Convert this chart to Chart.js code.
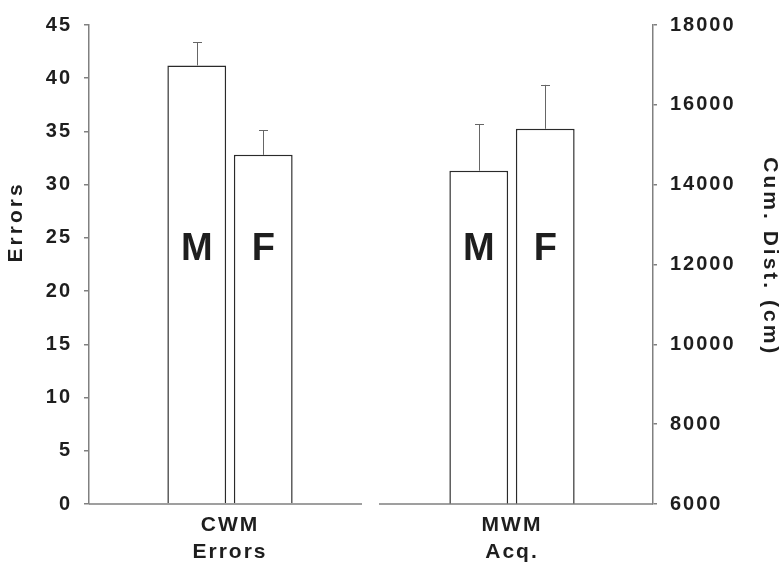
<!DOCTYPE html>
<html>
<head>
<meta charset="utf-8">
<script src="https://cdn.jsdelivr.net/npm/chart.js@4"></script>
<style>
  html, body { margin: 0; padding: 0; background: #fff; }
  canvas { display: block; }
</style>
</head>
<body>
<canvas id="myChart" width="780" height="568"></canvas>
<script>
var groups = [['CWM', 'Errors'], ['MWM', 'Acq.']];
var sexes = ['M', 'F'];
var cwmErrors = [41.2, 32.8];
var cwmErrorsSem = [2.2, 2.3];
var mwmDist = [14350, 15400];
var mwmDistSem = [1170, 1100];
var errorTicks = [0, 5, 10, 15, 20, 25, 30, 35, 40, 45];
var distTicks = [6000, 8000, 10000, 12000, 14000, 16000, 18000];

var FONT = '"Liberation Sans", Arial, sans-serif';
var INK = '#1e1e1e';
var AXIS = '#808080';
var BAR_FILL = '#ffffff';
var BAR_EDGE = '#2a2a2a';

// spaced-out lettering like the original figure
var spacing = {
    id: 'spacing',
    beforeUpdate: function(chart) { chart.ctx.letterSpacing = '2px'; },
    beforeDraw: function(chart) { chart.ctx.letterSpacing = '2px'; }
};

// error bars (upper half only) and the M / F letters inside the bars
var barExtras = {
    id: 'barExtras',
    afterDatasetsDraw: function(chart) {
        var ctx = chart.ctx;
        var area = chart.chartArea;
        ctx.save();
        chart.data.datasets.forEach(function(ds, i) {
            var meta = chart.getDatasetMeta(i);
            var scale = chart.scales[ds.yAxisID];
            meta.data.forEach(function(bar, j) {
                if (ds.data[j] == null) return;
                var top = scale.getPixelForValue(ds.data[j] + ds.errors[j]);
                ctx.strokeStyle = '#666';
                ctx.lineWidth = 1;
                ctx.beginPath();
                ctx.moveTo(Math.round(bar.x) + 0.5, bar.y);
                ctx.lineTo(Math.round(bar.x) + 0.5, top);
                ctx.moveTo(Math.round(bar.x) - 4, Math.round(top) + 0.5);
                ctx.lineTo(Math.round(bar.x) + 5, Math.round(top) + 0.5);
                ctx.stroke();

                ctx.fillStyle = INK;
                ctx.font = 'bold 38px ' + FONT;
                ctx.letterSpacing = '0px';
                ctx.textAlign = 'center';
                ctx.textBaseline = 'middle';
                ctx.fillText(ds.label, bar.x, area.top + 0.469 * (area.bottom - area.top));
                ctx.letterSpacing = '2px';
            });
        });

        // baseline, broken between the two panels
        var mid = (area.left + area.right) / 2;
        ctx.strokeStyle = AXIS;
        ctx.lineWidth = 1.5;
        ctx.beginPath();
        ctx.moveTo(area.left, area.bottom);
        ctx.lineTo(mid - 9, area.bottom);
        ctx.moveTo(mid + 8, area.bottom);
        ctx.lineTo(area.right, area.bottom);
        ctx.stroke();
        ctx.restore();
    }
};

// axis titles
var axisTitles = {
    id: 'axisTitles',
    afterDraw: function(chart) {
        var ctx = chart.ctx;
        var area = chart.chartArea;
        var h = area.bottom - area.top;
        ctx.save();
        ctx.fillStyle = INK;
        ctx.font = 'bold 21px ' + FONT;
        ctx.letterSpacing = '3px';
        ctx.textAlign = 'center';
        ctx.textBaseline = 'middle';

        ctx.save();
        ctx.translate(chart.scales.y.left + 16, area.top + 0.411 * h);
        ctx.rotate(-Math.PI / 2);
        ctx.fillText('Errors', 0, 0);
        ctx.restore();

        ctx.save();
        ctx.translate(chart.scales.y2.right - 10.5, area.top + 0.484 * h);
        ctx.rotate(Math.PI / 2);
        ctx.fillText('Cum. Dist. (cm)', 0, 0);
        ctx.restore();

        ctx.restore();
    }
};

function barSet(label, data, errors, axis) {
    return {
        label: label,
        data: data,
        errors: errors,
        yAxisID: axis,
        backgroundColor: BAR_FILL,
        borderColor: BAR_EDGE,
        borderWidth: 1.5
    };
}

var ctx = document.getElementById('myChart').getContext('2d');
var myChart = new Chart(ctx, {
    type: 'bar',
    data: {
        labels: groups,
        datasets: [
            barSet(sexes[0], [cwmErrors[0], null], [cwmErrorsSem[0], null], 'y'),
            barSet(sexes[1], [cwmErrors[1], null], [cwmErrorsSem[1], null], 'y'),
            barSet(sexes[0], [null, mwmDist[0]], [null, mwmDistSem[0]], 'y2'),
            barSet(sexes[1], [null, mwmDist[1]], [null, mwmDistSem[1]], 'y2')
        ]
    },
    options: {
        responsive: false,
        animation: false,
        layout: { padding: { top: 24, left: 0, right: 0, bottom: 0 } },
        datasets: {
            bar: {
                skipNull: true,
                categoryPercentage: 0.4716,
                barPercentage: 0.884
            }
        },
        plugins: {
            legend: { display: false },
            tooltip: { enabled: false },
            colors: { enabled: false }
        },
        scales: {
            x: {
                grid: { display: false, drawTicks: false },
                border: { display: false },
                ticks: {
                    color: INK,
                    padding: 8,
                    maxRotation: 0,
                    autoSkip: false,
                    font: { family: FONT, size: 21, weight: 'bold', lineHeight: 1.27 }
                },
                afterFit: function(s) { s.height = 64; }
            },
            y: {
                position: 'left',
                min: 0,
                max: 45,
                afterBuildTicks: function(s) {
                    s.ticks = errorTicks.map(function(v) { return { value: v }; });
                },
                grid: { drawOnChartArea: false, color: AXIS, lineWidth: 1.5, tickLength: 5 },
                border: { color: AXIS, width: 1.5 },
                ticks: {
                    color: INK,
                    padding: 12,
                    font: { family: FONT, size: 20, weight: 'bold' }
                },
                afterFit: function(s) { s.width = 89; }
            },
            y2: {
                position: 'right',
                min: 6000,
                max: 18000,
                afterBuildTicks: function(s) {
                    s.ticks = distTicks.map(function(v) { return { value: v }; });
                },
                grid: { drawOnChartArea: false, color: AXIS, lineWidth: 1.5, tickLength: 4 },
                border: { color: AXIS, width: 1.5 },
                ticks: {
                    color: INK,
                    padding: 13,
                    font: { family: FONT, size: 20, weight: 'bold' },
                    callback: function(value) { return String(value); }
                },
                afterFit: function(s) { s.width = 127; }
            }
        }
    },
    plugins: [spacing, barExtras, axisTitles]
});
</script>
</body>
</html>
